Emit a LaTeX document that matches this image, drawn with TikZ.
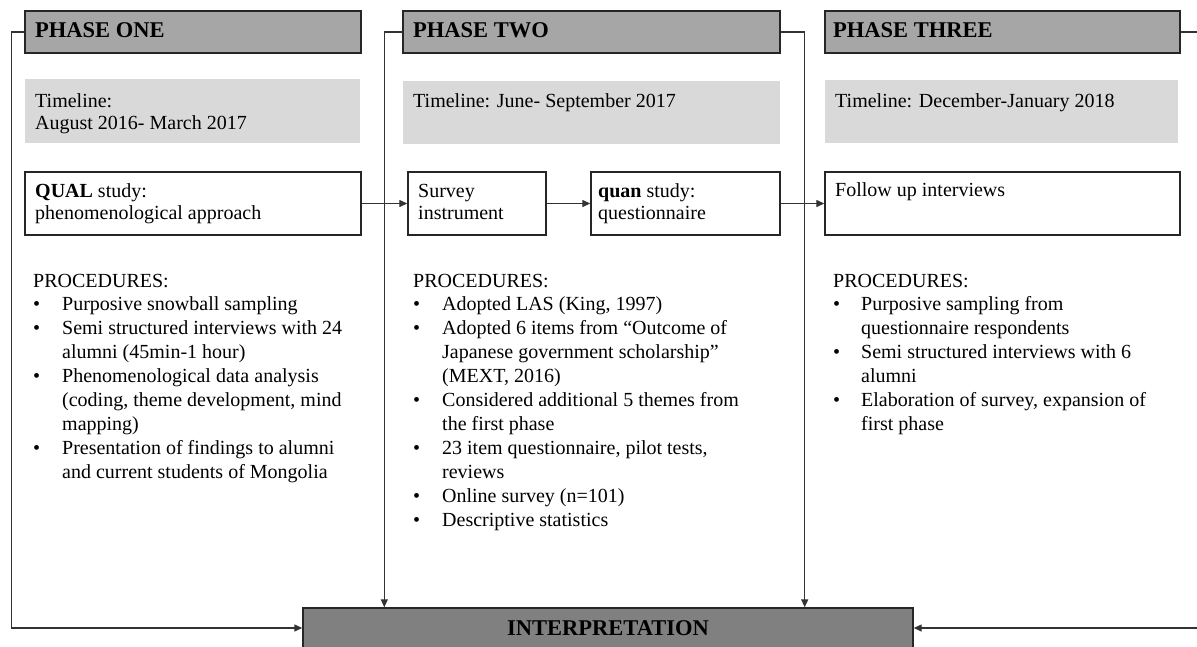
\documentclass[tikz,border=0pt]{standalone}
\usepackage{fontspec}
\setmainfont{Liberation Serif}
\usetikzlibrary{arrows.meta,calc}
\definecolor{hdrgray}{HTML}{A6A6A6}
\definecolor{tlgray}{HTML}{D9D9D9}
\definecolor{ipgray}{HTML}{808080}
\tikzset{
  box/.style={draw=black!85, line width=1.4pt, rectangle, inner sep=0pt},
  hdrbox/.style={box, fill=hdrgray},
  tlbox/.style={rectangle, fill=tlgray, inner sep=0pt},
  txt/.style={anchor=base west, inner sep=0pt, font=\fontsize{20}{22.5}\selectfont},
  proc/.style={anchor=base west, inner sep=0pt, font=\fontsize{20}{23.9}\selectfont},
  htxt/.style={anchor=base west, inner sep=0pt, font=\fontsize{22.5}{26}\selectfont\bfseries},
  conn/.style={line width=1.3pt, draw=black!80},
  arr/.style={conn, -{Triangle[length=8pt,width=7pt]}},
}
\begin{document}
\begin{tikzpicture}[x=1pt,y=-1pt]
\fill[white] (0,0) rectangle (1197,646);
\useasboundingbox (0,0) rectangle (1197,646);

% headers
\node[hdrbox, minimum width=336, minimum height=42] (h1) at (193,32) {};
\node[hdrbox, minimum width=377, minimum height=42] (h2) at (591.5,32) {};
\node[hdrbox, minimum width=355, minimum height=42] (h3) at (1002.5,32) {};
\node[htxt] (h1t) at (35,37.5) {PHASE ONE};
\node[htxt] (h2t) at (413,37.5) {PHASE TWO};
\node[htxt] (h3t) at (833,37.5) {PHASE THREE};

% timelines
\node[tlbox, minimum width=335, minimum height=64] (t1) at (192.5,111) {};
\node[tlbox, minimum width=377, minimum height=63] (t2) at (591.5,112.5) {};
\node[tlbox, minimum width=353, minimum height=63] (t3) at (1001.5,111.5) {};
\node[txt] (t1t) at (35,107) {\begin{tabular}[t]{@{}l@{}}Timeline:\\ August 2016- March 2017\end{tabular}};
\node[txt] (t2t) at (413,107) {Timeline: June- September 2017};
\node[txt] (t3t) at (835,107) {Timeline: December-January 2018};

% study boxes
\node[box, minimum width=336, minimum height=63] (qual) at (193,203.5) {};
\node[box, minimum width=138, minimum height=63] (survey) at (477,203.5) {};
\node[box, minimum width=189, minimum height=63] (quan) at (685.5,203.5) {};
\node[box, minimum width=355, minimum height=63] (follow) at (1002.5,203.5) {};
\node[txt] (qualt) at (35,197) {\begin{tabular}[t]{@{}l@{}}\textbf{QUAL} study:\\ phenomenological approach\end{tabular}};
\node[txt] (surveyt) at (418,197) {\begin{tabular}[t]{@{}l@{}}Survey\\ instrument\end{tabular}};
\node[txt] (quant) at (598,197) {\begin{tabular}[t]{@{}l@{}}\textbf{quan} study:\\ questionnaire\end{tabular}};
\node[txt] (followt) at (835,196) {Follow up interviews};

% procedures
\node[proc] (p1) at (33,287) {\begin{tabular}[t]{@{}p{29pt}@{}l@{}}
\multicolumn{2}{@{}l@{}}{PROCEDURES:}\\
• & Purposive snowball sampling\\
• & Semi structured interviews with 24\\
  & alumni (45min-1 hour)\\
• & Phenomenological data analysis\\
  & (coding, theme development, mind\\
  & mapping)\\
• & Presentation of findings to alumni\\
  & and current students of Mongolia
\end{tabular}};
\node[proc] (p2) at (413,287) {\begin{tabular}[t]{@{}p{29pt}@{}l@{}}
\multicolumn{2}{@{}l@{}}{PROCEDURES:}\\
• & Adopted LAS (King, 1997)\\
• & Adopted 6 items from “Outcome of\\
  & Japanese government scholarship”\\
  & (MEXT, 2016)\\
• & Considered additional 5 themes from\\
  & the first phase\\
• & 23 item questionnaire, pilot tests,\\
  & reviews\\
• & Online survey (n=101)\\
• & Descriptive statistics
\end{tabular}};
\node[proc] (p3) at (833,287) {\begin{tabular}[t]{@{}p{28pt}@{}l@{}}
\multicolumn{2}{@{}l@{}}{PROCEDURES:}\\
• & Purposive sampling from\\
  & questionnaire respondents\\
• & Semi structured interviews with 6\\
  & alumni\\
• & Elaboration of survey, expansion of\\
  & first phase
\end{tabular}};

% interpretation
\node[box, fill=ipgray, minimum width=610, minimum height=40, font=\fontsize{22.5}{26}\selectfont\bfseries] (interp) at (608,628) {INTERPRETATION};

% connectors
\draw[arr] (h1.west) -- ++(-13,0) |- (interp.west);
\draw[arr] (h2.west) -- ++(-18,0) coordinate (c2) -- (c2 |- interp.north);
\draw[arr] (h2.east) -- ++(24,0) coordinate (c3) -- (c3 |- interp.north);
\draw[arr] (h3.east) -- ++(19,0) coordinate (c4) |- (interp.east);
\draw[arr] (qual.east) -- (survey.west);
\draw[arr] (survey.east) -- (quan.west);
\draw[arr] (quan.east) -- (follow.west);
\end{tikzpicture}
\end{document}
